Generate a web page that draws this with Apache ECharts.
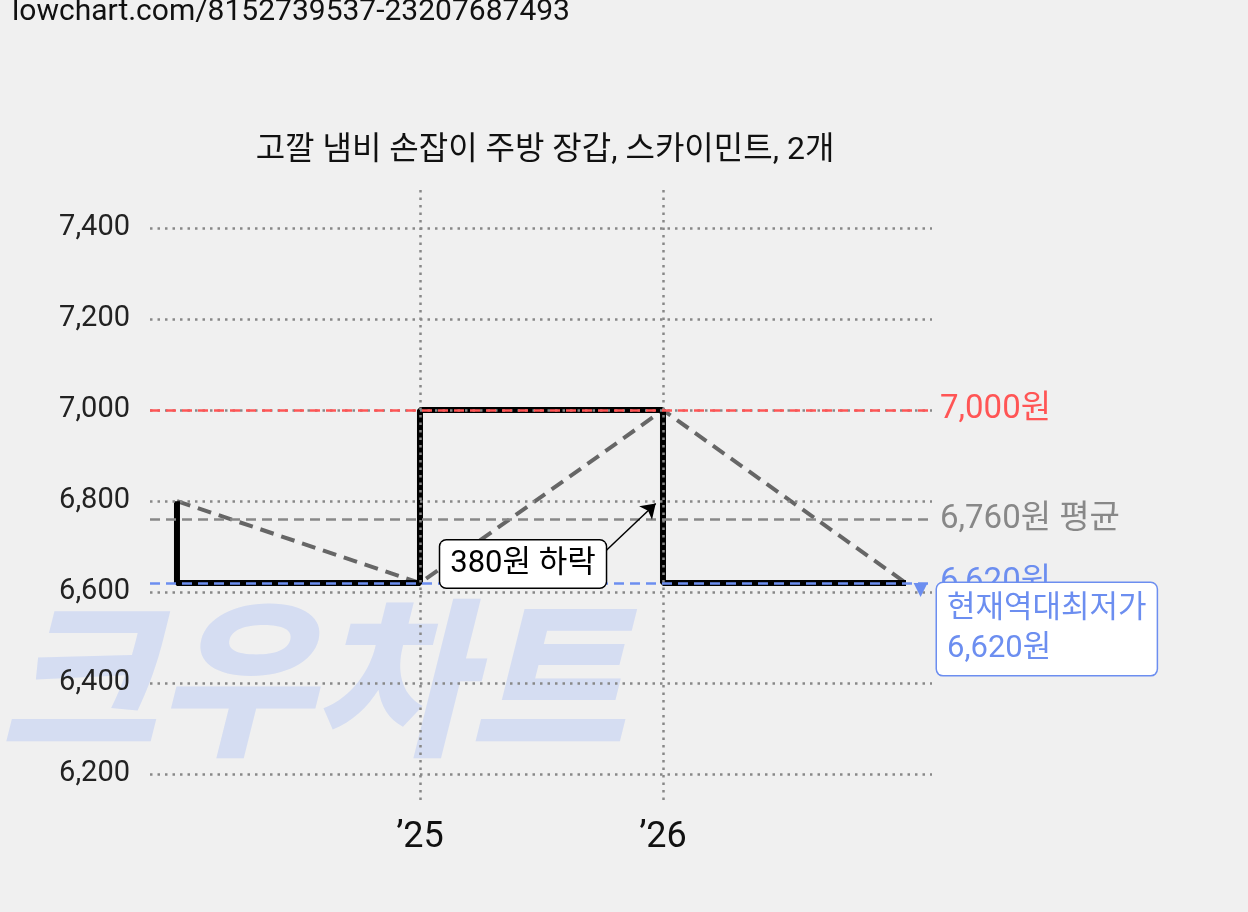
<!DOCTYPE html><html><head><meta charset="utf-8"><script src="https://cdn.jsdelivr.net/npm/echarts@6/dist/echarts.min.js"></script>
<style>body{margin:0;background:#f0f0f0}#c{width:1248px;height:912px}</style></head><body><div id="c"></div><script>
const priceSteps=[[2024,6800],[2024,6620],[2025,6620],[2025,7000],[2026,7000],[2026,6620],[2027,6620]];
const trend=[[2024,6800],[2025,6620],[2026,7000],[2027,6620]];
const yTicks=[6200,6400,6600,6800,7000,7200,7400];
const yearTicks=[2025,2026];
const maxPrice=7000,avgPrice=6760,minPrice=6620;
const F='Roboto,"Noto Sans CJK KR",sans-serif';
const c=echarts.init(document.getElementById('c'));
c.setOption({backgroundColor:'#f0f0f0',animation:false,
graphic:[{type:'text',left:12,top:-2,z:-1,style:{text:'lowchart.com/8152739537-23207687493',font:'30px '+F,fill:'#111'}},
{type:'text',left:0,top:592,z:-10,style:{text:'크우차트',font:'italic 900 170px "Noto Sans CJK KR"',fill:'#d5ddf2'}}],
title:{text:'고깔 냄비 손잡이 주방 장갑, 스카이민트, 2개',left:540,textAlign:'center',top:130,textStyle:{fontFamily:F,fontSize:32,fontWeight:'normal',color:'#111'}},
grid:{left:150,right:316,top:188,bottom:112},
xAxis:{type:'value',min:2023.889,max:2027.107,axisLine:{show:false},axisTick:{show:false},splitLine:{show:false},
 axisLabel:{customValues:yearTicks,formatter:v=>'’'+String(v).slice(2),fontSize:36,color:'#111',fontFamily:F,margin:20}},
yAxis:{type:'value',min:6143.4,max:7488,axisLine:{show:false},axisTick:{show:false},splitLine:{show:false},
 axisLabel:{customValues:yTicks,formatter:v=>v.toLocaleString('en-US'),fontSize:29,color:'#222',fontFamily:F,margin:20}},
series:[
{type:'line',data:[],z:1,
 markLine:{silent:true,symbol:'none',label:{show:false},lineStyle:{color:'#888',type:[2.5,5],width:2.5},
  data:yTicks.map(v=>({yAxis:v})).concat(yearTicks.map(v=>({xAxis:v})))}},
{type:'line',data:[],z:2,
 markLine:{silent:true,symbol:'none',
  data:[{yAxis:maxPrice,lineStyle:{color:'#f55',type:[10,6],width:2.5},label:{formatter:'7,000원',color:'#f55'}},
   {yAxis:avgPrice,lineStyle:{color:'#888',type:[10,6],width:2.5},label:{formatter:'6,760원 평균',color:'#888'}},
   {yAxis:minPrice,lineStyle:{color:'#6c8ef0',type:[10,6],width:2.5},label:{formatter:'6,620원',color:'#6c8ef0'}}],
  label:{position:'end',fontSize:33,fontFamily:F,distance:8}}},
{type:'line',data:trend,symbol:'none',lineStyle:{color:'#666',width:4,type:[14,8]},z:3},
{type:'line',data:priceSteps,symbol:'none',lineStyle:{color:'#000',width:6},z:4},
{type:'line',data:[],z:6,
 markLine:{silent:true,symbol:['none','arrow'],symbolSize:14,lineStyle:{color:'#000',width:1.5,type:'solid'},label:{show:false},
  data:[[{coord:[2025.7,6658]},{coord:[2025.97,6795]}]]},
 markPoint:{symbolSize:0,data:[
  {coord:[2025.424,6662],label:{show:true,position:'inside',formatter:'380원 하락',fontSize:31,fontFamily:F,color:'#000',backgroundColor:'#fff',borderColor:'#000',borderWidth:1.5,borderRadius:6,padding:[8,10]}},
  {coord:[2027.0,6620],label:{show:true,position:'right',distance:0,offset:[31,46],formatter:'현재역대최저가\n6,620원',fontSize:31,lineHeight:40,fontFamily:F,color:'#6c8ef0',backgroundColor:'#fff',borderColor:'#6c8ef0',borderWidth:1.5,borderRadius:6,padding:[6,10]}},
  {coord:[2027.06,6605],symbol:'triangle',symbolSize:14,symbolRotate:180,itemStyle:{color:'#6c8ef0'},label:{show:false}}]}}
]});
</script></body></html>
